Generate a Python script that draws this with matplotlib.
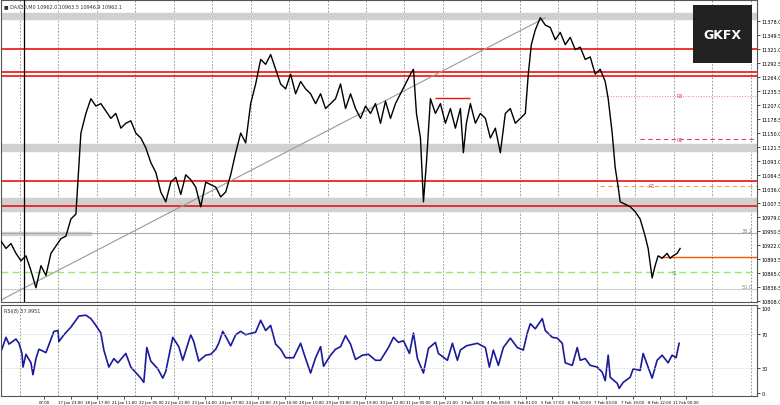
import matplotlib
matplotlib.use("Agg")
import matplotlib.pyplot as plt
from matplotlib.patches import Rectangle

# ---- data (x in bar units, price) ----
price_x = [0,5,10,15,20,25,30,35,40,45,50,55,60,65,70,75,80,85,90,95,100,105,110,115,120,125,130,135,140,145,150,155,160,165,170,175,180,185,190,195,200,205,210,215,220,225,230,235,240,245,250,255,260,265,270,275,280,285,290,295,300,305,310,315,320,325,330,335,340,345,350,355,360,365,370,375,380,385,390,395,400,405,410,413,416,420,423,426,430,435,440,445,450,455,460,463,466,470,475,480,485,490,495,500,505,510,515,520,525,528,531,535,540,545,550,555,560,565,570,575,580,585,590,595,600,605,608,612,615,618,620,625,630,635,640,645,648,652,655,658,662,667,670,673,677,680]
price = [10930,10915,10925,10905,10890,10900,10870,10835,10880,10860,10905,10920,10935,10940,10975,10985,11150,11190,11220,11205,11210,11195,11180,11190,11160,11170,11175,11150,11140,11120,11090,11070,11030,11010,11050,11060,11025,11065,11055,11040,11000,11050,11045,11040,11020,11030,11065,11110,11150,11130,11210,11250,11300,11290,11310,11280,11250,11240,11270,11230,11255,11240,11230,11210,11230,11200,11210,11220,11250,11200,11230,11200,11180,11205,11190,11210,11170,11215,11180,11210,11230,11250,11270,11280,11190,11140,11010,11090,11220,11190,11210,11170,11200,11160,11200,11110,11170,11210,11170,11190,11180,11140,11160,11110,11190,11200,11170,11180,11190,11270,11330,11360,11385,11370,11365,11340,11355,11330,11345,11320,11325,11300,11305,11270,11280,11255,11220,11150,11080,11040,11010,11005,11000,10990,10975,10940,10915,10855,10880,10900,10895,10905,10895,10900,10905,10915]

rsi_x = [0,5,8,15,18,21,22,25,30,32,35,38,45,53,57,58,63,70,78,85,90,95,100,103,108,113,117,125,130,140,143,146,150,157,162,165,172,178,182,190,193,198,205,210,215,218,222,225,230,235,240,245,255,260,265,270,275,280,285,293,300,305,310,315,320,323,330,335,340,345,350,355,362,368,375,380,388,393,398,403,409,413,417,423,428,435,438,447,452,457,460,466,477,485,489,493,498,503,510,517,523,527,530,535,542,545,552,557,562,565,572,577,580,585,590,597,602,605,608,610,617,619,623,630,633,640,643,648,652,657,662,668,672,676,679]
rsi = [49,66,58,64,59,47,31,46,36,22,41,52,48,73,74,61,69,78,91,92,88,80,71,51,31,41,36,47,31,18,13,54,38,29,18,26,66,55,39,69,61,38,45,46,52,59,73,67,56,69,73,69,72,86,74,80,58,52,42,42,59,41,24,42,55,32,45,52,55,68,58,40,45,46,39,39,54,66,60,62,47,71,41,24,53,60,47,39,59,39,51,56,59,54,31,51,33,54,65,54,51,71,82,76,88,74,66,65,59,36,33,54,39,41,33,31,25,15,45,19,12,6,13,19,29,27,47,31,18,39,45,36,45,42,59]

red_levels = [11322, 11275, 11267, 11052, 11001]
gray_bands = [(11383, 11395), (11113, 11127), (10992, 11018)]
pivot_labels = ["R3", "R2", "R1", "S1"]
pivot_levels = [11226, 11137, 11043, 10867]
tick_labels = ["07:00","17 Jan 23:00","18 Jan 17:00","21 Jan 11:00","22 Jan 05:00","22 Jan 21:00","23 Jan 14:00","24 Jan 07:00","24 Jan 23:00","25 Jan 16:00","28 Jan 10:00","29 Jan 03:00","29 Jan 19:00","30 Jan 12:00","31 Jan 05:00","31 Jan 21:00","1 Feb 14:00","4 Feb 08:00","5 Feb 01:00","5 Feb 17:00","6 Feb 10:00","7 Feb 03:00","7 Feb 19:00","8 Feb 12:00","11 Feb 00:00"]
price_ticks = [10808.0,10836.5,10865.0,10893.5,10922.0,10950.5,10979.0,11007.5,11036.0,11064.5,11093.0,11121.5,11150.0,11178.5,11207.0,11235.5,11264.0,11292.5,11321.0,11349.5,11378.0]

fig = plt.figure(figsize=(7.8, 4.06), dpi=100)
fig.patch.set_facecolor("white")
W, H = 780, 406
ax = fig.add_axes([1/W, 1-303/H, 756/W, 302/H])
ar = fig.add_axes([1/W, 1-397/H, 756/W, 91/H], sharex=ax)

XMAX = 757
ax.set_xlim(0, XMAX)
ax.set_ylim(10806, 11421)

for xg in [19 + 38.5*i for i in range(20)]:
    for a in (ax, ar):
        a.axvline(xg, color="#888888", lw=0.6, ls=(0, (2, 2)), zorder=0)

for lo, hi in gray_bands:
    ax.axhspan(lo, hi, color="#d0d0d0", zorder=1)
ax.axhspan(10942, 10948, xmin=0, xmax=90/XMAX, color="#d0d0d0", zorder=1)
for lv in red_levels:
    ax.axhline(lv, color="#ee1111", lw=1.2, zorder=2)
ax.hlines(11222, 435, 470, color="#ee1111", lw=1.0, zorder=2)
ax.hlines(10897, 660, XMAX, color="#ff5500", lw=1.0, zorder=2)
ax.axhline(10947, color="#aaaaaa", lw=0.8, zorder=1)
ax.axhline(10832, color="#cccccc", lw=0.8, zorder=1)
ax.hlines(pivot_levels[0], 600, XMAX, color="#f08080", lw=0.7, ls=":", zorder=2)
ax.hlines(pivot_levels[1], 640, XMAX, color="#e04070", lw=0.8, ls=(0, (4, 3)), zorder=2)
ax.hlines(pivot_levels[2], 600, XMAX, color="#ffa040", lw=0.8, ls=(0, (4, 3)), zorder=2)
ax.axhline(pivot_levels[3], color="#90ee60", lw=1.0, ls=(0, (5, 3)), zorder=2)
for lab, lv, xx in zip(pivot_labels, pivot_levels, [676, 676, 648, 672]):
    ax.text(xx, lv, lab, fontsize=3.5, color="#e04070" if lab != "S1" else "#60c030", va="center")
ax.text(752, 10947, "38.2", fontsize=3.5, color="#888888", ha="right", va="bottom")
ax.text(752, 10832, "50.0", fontsize=3.5, color="#888888", ha="right", va="bottom")

ax.plot([0, 545], [10810, 11385], color="#999999", lw=0.8, zorder=2)
ax.axvline(23, color="black", lw=0.9, zorder=3)
ax.plot(price_x, price, color="black", lw=1.0, zorder=4)

ax.add_patch(Rectangle((693, 11292), 59, 118, facecolor="#222222", edgecolor="none", zorder=5))
ax.text(722, 11351, "GKFX", color="white", fontsize=9, fontweight="bold", ha="center", va="center", zorder=6)
ax.text(3, 11415, "■ DAX30,M0 10962.0 10963.5 10946.9 10962.1", fontsize=3.5, va="top", color="#333333")

ax.yaxis.tick_right()
ax.set_yticks(price_ticks)
ax.set_yticklabels([f"{v:.1f}" for v in price_ticks], fontsize=3.5)
ax.tick_params(axis="y", length=2, pad=1, width=0.5)
plt.setp(ax.get_xticklabels(), visible=False)
ax.tick_params(axis="x", length=0)

ar.plot(rsi_x, rsi, color="#1a1a9a", lw=1.2)
ar.set_ylim(-3, 104)
for lv in (70, 30):
    ar.axhline(lv, color="#cccccc", lw=0.5, ls=(0, (2, 2)))
ar.text(3, 100, "RSI(8) 57.9951", fontsize=3.5, va="top", color="#333333")
ar.yaxis.tick_right()
ar.set_yticks([0, 30, 70, 100])
ar.set_yticklabels(["0", "30", "70", "100"], fontsize=3.5)
ar.tick_params(axis="y", length=2, pad=1, width=0.5)
ar.set_xticks([43 + 26.8*i for i in range(len(tick_labels))])
ar.set_xticklabels(tick_labels, fontsize=2.8)
ar.tick_params(axis="x", length=2, pad=1, width=0.5)
for a in (ax, ar):
    for s in a.spines.values():
        s.set_color("#555555"); s.set_linewidth(0.8)

fig.savefig("out.png", dpi=100, facecolor="white")
